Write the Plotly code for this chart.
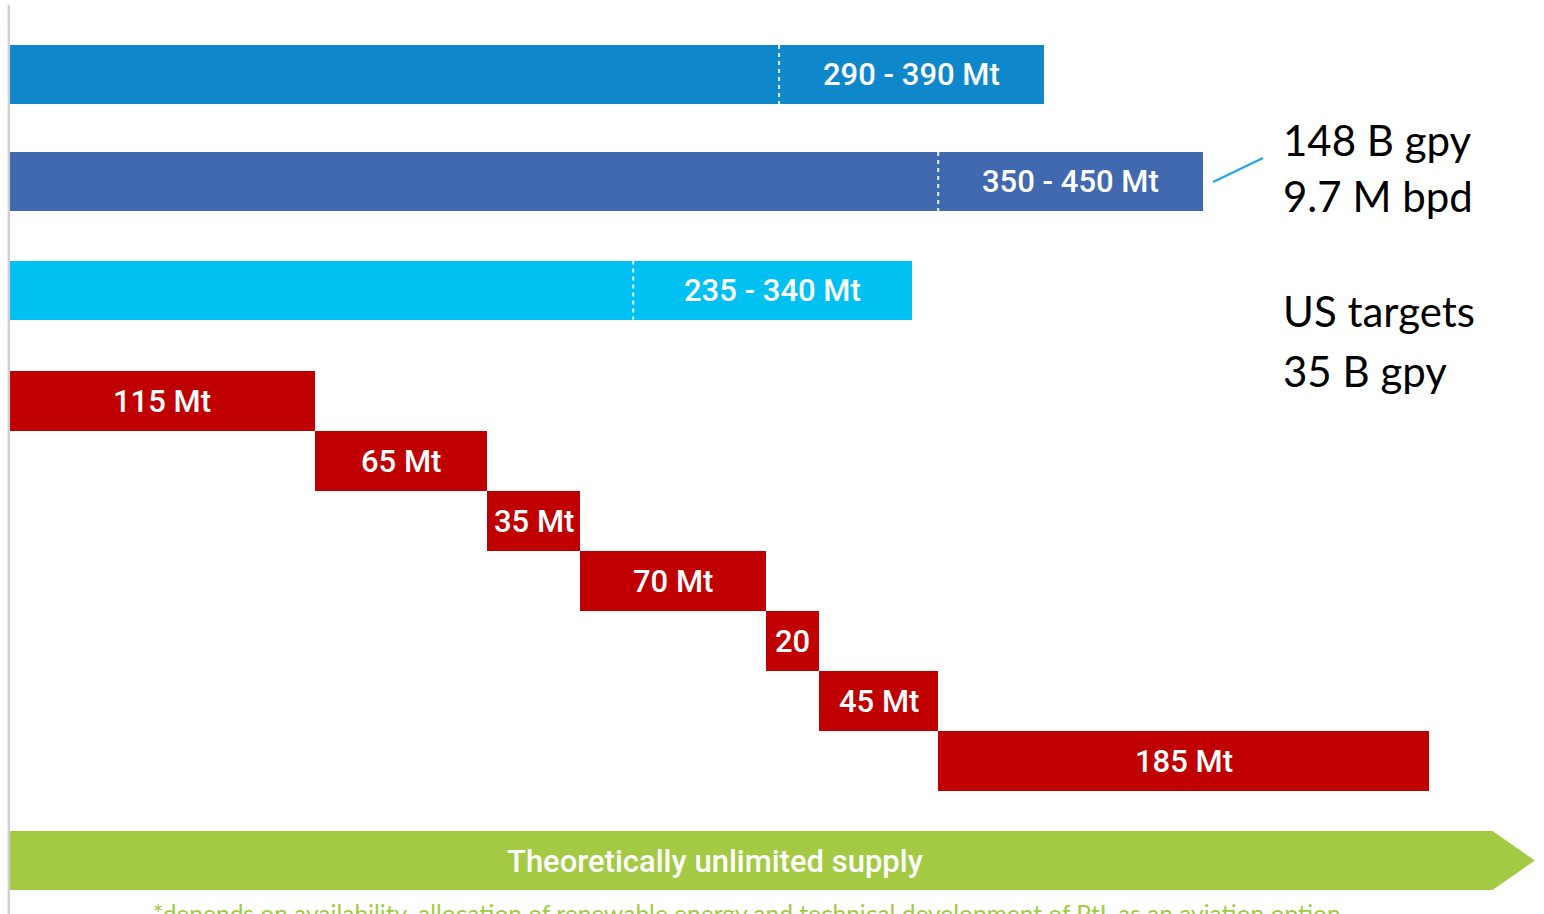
import plotly.graph_objects as go
import numpy as np

# ---------------- data ----------------
scenario_low = [290, 350, 235]
scenario_high = [390, 450, 340]
scenario_labels = ["290 - 390 Mt", "350 - 450 Mt", "235 - 340 Mt"]

supply_values = [115, 65, 35, 70, 20, 45, 185]
supply_labels = ["115 Mt", "65 Mt", "35 Mt", "70 Mt", "20", "45 Mt", "185 Mt"]

unlimited_label = "Theoretically unlimited supply"
unlimited_extent = 559      # body length of arrow (Mt scale)
unlimited_tip = 575
footnote = ("*depends on availability, allocation of renewable energy and "
            "technical development of PtL as an aviation option")

side_notes = ["148 B gpy", "9.7 M bpd", "US targets", "35 B gpy"]

# ---------------- layout constants ----------------
W, H = 1544, 914
PX_PER_MT = 2.652
X0_PX = 10
scen_colors = ["#0e88cb", "#4169b0", "#00c1f2"]
red = "#c00000"
green = "#a3ca42"
scen_y = [74.5, 181.5, 290]
red_y0, red_step = 401, 60.08
green_y = 860.5
bar_h = 59

fig = go.Figure()

# scenario bars
for i in range(3):
    fig.add_trace(go.Bar(
        x=[scenario_high[i]], y=[scen_y[i]], base=[0], orientation="h",
        width=bar_h, marker=dict(color=scen_colors[i], line=dict(width=0)),
        hoverinfo="skip", showlegend=False))
    fig.add_shape(type="line", xref="x", yref="y",
                  x0=scenario_low[i], x1=scenario_low[i],
                  y0=scen_y[i] - bar_h / 2, y1=scen_y[i] + bar_h / 2,
                  line=dict(color="rgba(255,255,255,0.9)", width=2, dash="4px,4px"))
    fig.add_annotation(x=(scenario_low[i] + scenario_high[i]) / 2, y=scen_y[i],
                       text=scenario_labels[i], showarrow=False,
                       font=dict(family="Roboto", size=31, color="white", weight=500),
                       xanchor="center", yanchor="middle")

# waterfall supply bars
bases = np.concatenate([[0], np.cumsum(supply_values)[:-1]])
red_ys = [red_y0 + red_step * k for k in range(len(supply_values))]
fig.add_trace(go.Bar(
    x=supply_values, y=red_ys, base=bases, orientation="h",
    width=[bar_h + 1] * len(supply_values),
    marker=dict(color=red, line=dict(width=0)),
    hoverinfo="skip", showlegend=False))
for b, v, yy, lab in zip(bases, supply_values, red_ys, supply_labels):
    fig.add_annotation(x=b + v / 2, y=yy, text=lab, showarrow=False,
                       font=dict(family="Roboto", size=31, color="white", weight=500),
                       xanchor="center", yanchor="middle")

# green arrow
gt, gb = green_y - bar_h / 2, green_y + bar_h / 2
fig.add_trace(go.Scatter(
    x=[0, unlimited_extent, unlimited_tip, unlimited_extent, 0, 0],
    y=[gt, gt, green_y, gb, gb, gt],
    fill="toself", fillcolor=green, mode="lines",
    line=dict(width=0, color=green), hoverinfo="skip", showlegend=False))
fig.add_annotation(x=266, y=green_y + 1, text=unlimited_label, showarrow=False,
                   font=dict(family="Roboto", size=31, color="white", weight=500),
                   xanchor="center", yanchor="middle")
fig.add_annotation(x=278, y=897, text=footnote, showarrow=False,
                   font=dict(family="Lato", size=24.5, color="#a3ca42"),
                   xanchor="center", yanchor="top")

# left axis line
fig.add_shape(type="line", xref="x", yref="y", x0=-0.45, x1=-0.45, y0=5, y1=914,
              line=dict(color="#d0d0d0", width=2.5))

# connector line to side note
fig.add_shape(type="line", xref="x", yref="y",
              x0=(1213 - X0_PX) / PX_PER_MT, x1=(1263 - X0_PX) / PX_PER_MT,
              y0=182, y1=158, line=dict(color="#1ea7e8", width=2))

# side notes
note_y = [140, 196, 311, 371]
for txt, yy in zip(side_notes, note_y):
    fig.add_annotation(x=(1281 - X0_PX) / PX_PER_MT, y=yy, text=txt, showarrow=False,
                       font=dict(family="Lato", size=42, color="black"),
                       xanchor="left", yanchor="middle")

fig.update_layout(
    width=W, height=H, margin=dict(l=0, r=0, t=0, b=0),
    paper_bgcolor="white", plot_bgcolor="white",
    barmode="overlay", bargap=0,
    xaxis=dict(range=[-X0_PX / PX_PER_MT, (W - X0_PX) / PX_PER_MT],
               visible=False, fixedrange=True),
    yaxis=dict(range=[H, 0], visible=False, fixedrange=True),
)

fig.write_html("out.html")
